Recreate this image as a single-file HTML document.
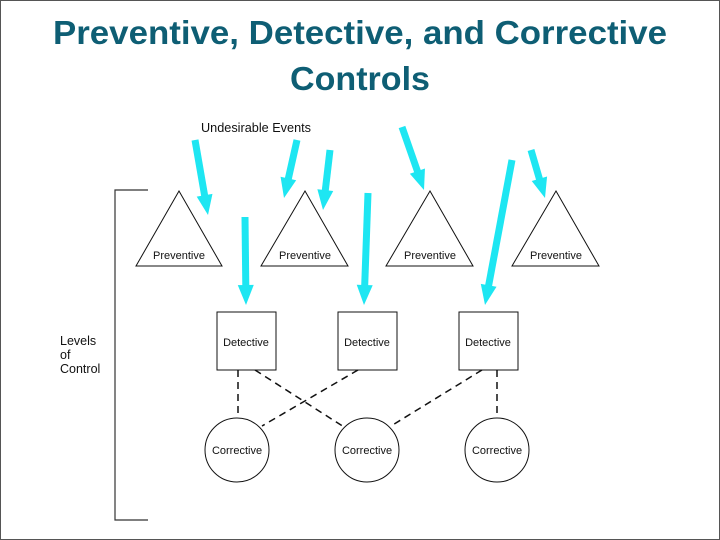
<!DOCTYPE html>
<html><head><meta charset="utf-8"><style>
html,body{margin:0;padding:0;background:#fff;}
svg{display:block;}
</style></head><body>
<svg id="s" width="720" height="540" viewBox="0 0 720 540" xmlns="http://www.w3.org/2000/svg">
<rect x="0.5" y="0.5" width="719" height="539" fill="#fff" stroke="#555" stroke-width="1"/>
<g font-family="'Liberation Sans',sans-serif" font-weight="bold" fill="#0e5e74" font-size="33" text-anchor="middle">
<text x="360" y="44" textLength="614" lengthAdjust="spacingAndGlyphs">Preventive, Detective, and Corrective</text>
<text x="360" y="90" textLength="140" lengthAdjust="spacingAndGlyphs">Controls</text>
</g>
<g font-family="'Liberation Sans',sans-serif" font-size="12.5" fill="#111">
<text x="201" y="132" textLength="110" lengthAdjust="spacingAndGlyphs">Undesirable Events</text>
<text x="60" y="345">Levels</text>
<text x="60" y="359">of</text>
<text x="60" y="373">Control</text>
</g>
<path d="M148 190 H115 V520 H148" fill="none" stroke="#333" stroke-width="1.2"/>
<g fill="#fff" stroke="#111" stroke-width="1">
<polygon points="179,191 136,266 222,266"/>
<polygon points="305,191 261,266 348,266"/>
<polygon points="430,191 386,266 473,266"/>
<polygon points="556,191 512,266 599,266"/>
<rect x="217" y="312" width="59" height="58"/>
<rect x="338" y="312" width="59" height="58"/>
<rect x="459" y="312" width="59" height="58"/>
<circle cx="237" cy="450" r="32"/>
<circle cx="367" cy="450" r="32"/>
<circle cx="497" cy="450" r="32"/>
</g>
<g stroke="#111" stroke-width="1.5" stroke-dasharray="7,5" fill="none">
<line x1="238" y1="370" x2="238" y2="417"/>
<line x1="255" y1="370" x2="344" y2="427"/>
<line x1="358" y1="370" x2="262" y2="426"/>
<line x1="482" y1="370" x2="391" y2="426"/>
<line x1="497" y1="370" x2="497" y2="417"/>
</g>
<g font-family="'Liberation Sans',sans-serif" font-size="11" fill="#111" text-anchor="middle">
<text x="179" y="259">Preventive</text>
<text x="305" y="259">Preventive</text>
<text x="430" y="259">Preventive</text>
<text x="556" y="259">Preventive</text>
<text x="246" y="346">Detective</text>
<text x="367" y="346">Detective</text>
<text x="488" y="346">Detective</text>
<text x="237" y="454">Corrective</text>
<text x="367" y="454">Corrective</text>
<text x="497" y="454">Corrective</text>
</g>
<g id="arrows"></g>
<script>
var A=[[195,140,208,215],[297,140,284,198],[330,150,323,210],[402,127,424,190],[245,217,246,305],[368,193,364,305],[512,160,485,305],[531,150,545,198]];
var g=document.getElementById('arrows'),ns='http://www.w3.org/2000/svg',c='#1ee6f2';
A.forEach(function(a){var dx=a[2]-a[0],dy=a[3]-a[1],L=Math.sqrt(dx*dx+dy*dy),ux=dx/L,uy=dy/L,px=-uy,py=ux,hl=20,hw=8;
var bx=a[2]-ux*hl,by=a[3]-uy*hl;
var l=document.createElementNS(ns,'line');l.setAttribute('x1',a[0]);l.setAttribute('y1',a[1]);l.setAttribute('x2',bx+ux*2);l.setAttribute('y2',by+uy*2);l.setAttribute('stroke',c);l.setAttribute('stroke-width','7');g.appendChild(l);
var p=document.createElementNS(ns,'polygon');p.setAttribute('points',a[2]+','+a[3]+' '+(bx+px*hw)+','+(by+py*hw)+' '+(bx-px*hw)+','+(by-py*hw));p.setAttribute('fill',c);g.appendChild(p);});
</script>
</svg>
</body></html>
